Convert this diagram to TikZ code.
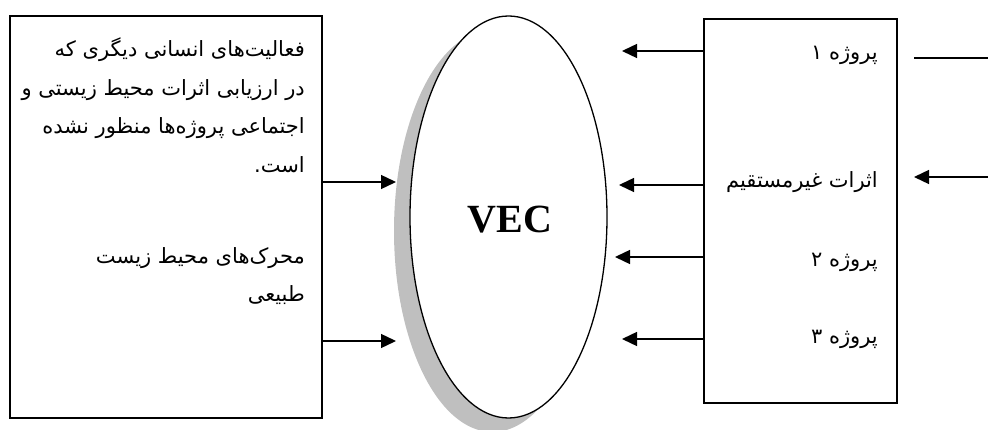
\documentclass[tikz,border=0pt]{standalone}
\usepackage{fontspec}
\usetikzlibrary{arrows.meta,shapes.geometric}
\TeXXeTstate=1
\newfontfamily\fa[Script=Arabic]{DejaVu Sans}
\newfontfamily\vecfont{Liberation Serif}
\definecolor{shadowgray}{RGB}{191,191,191}
\begin{document}
\begin{tikzpicture}[x=1pt,y=-1pt,
  box/.style={draw,line width=1.5pt,inner sep=0pt},
  arr/.style={line width=1.4pt,-{Triangle[length=15pt,width=14pt]}},
  plainline/.style={line width=1.4pt},
  fatext/.style={font=\fa\fontsize{21}{21}\selectfont,inner sep=0pt,anchor=base east},
]
\useasboundingbox (0,0) rectangle (988,430);
% boxes
\node[box,minimum width=312pt,minimum height=402pt] (lbox) at (166,217) {};
\node[box,minimum width=193pt,minimum height=384pt] (rbox) at (800.5,211) {};
% ellipse with shadow
\node[ellipse,fill=shadowgray,inner sep=0pt,minimum width=197pt,minimum height=402pt] (vecshadow) at (492.5,231) {};
\node[ellipse,draw,fill=white,line width=1.3pt,inner sep=0pt,minimum width=197pt,minimum height=402pt] (vec) at (508.5,217) {};
\node[font=\vecfont\bfseries\fontsize{40}{40}\selectfont,inner sep=0pt] (veclabel) at (510,220) {VEC};
% left texts
\node[fatext] (l1) at (305,57) {\beginR فعالیت^^^^200cهای انسانی دیگری که\endR};
\node[fatext] (l2) at (305,95.5) {\beginR در ارزیابی اثرات محیط زیستی و\endR};
\node[fatext] (l3) at (305,134) {\beginR اجتماعی پروژه^^^^200cها منظور نشده\endR};
\node[fatext] (l4) at (305,172.5) {\beginR است.\endR};
\node[fatext] (l5) at (305,264) {\beginR محرک^^^^200cهای محیط زیست\endR};
\node[fatext] (l6) at (305,302) {\beginR طبیعی\endR};
% right texts
\node[fatext] (r1) at (878,60) {\beginR پروژه ۱\endR};
\node[fatext] (r2) at (878,188) {\beginR اثرات غیرمستقیم\endR};
\node[fatext] (r3) at (878,267) {\beginR پروژه ۲\endR};
\node[fatext] (r4) at (878,343) {\beginR پروژه ۳\endR};
% arrow coordinates
\coordinate (la1) at (396,182);
\coordinate (la2) at (396,341);
\coordinate (ra1) at (622,51);
\coordinate (ra2) at (619,185);
\coordinate (ra3) at (615,257);
\coordinate (ra4) at (622,339);
\coordinate (oa1) at (914,58);
\coordinate (ob1) at (988,58);
\coordinate (oa2) at (914,177);
\coordinate (ob2) at (988,177);
% arrows
\draw[arr] (la1 -| lbox.east) -- (la1);
\draw[arr] (la2 -| lbox.east) -- (la2);
\draw[arr] (ra1 -| rbox.west) -- (ra1);
\draw[arr] (ra2 -| rbox.west) -- (ra2);
\draw[arr] (ra3 -| rbox.west) -- (ra3);
\draw[arr] (ra4 -| rbox.west) -- (ra4);
\draw[plainline] (ob1) -- (oa1);
\draw[arr] (ob2) -- (oa2);
\end{tikzpicture}
\end{document}
